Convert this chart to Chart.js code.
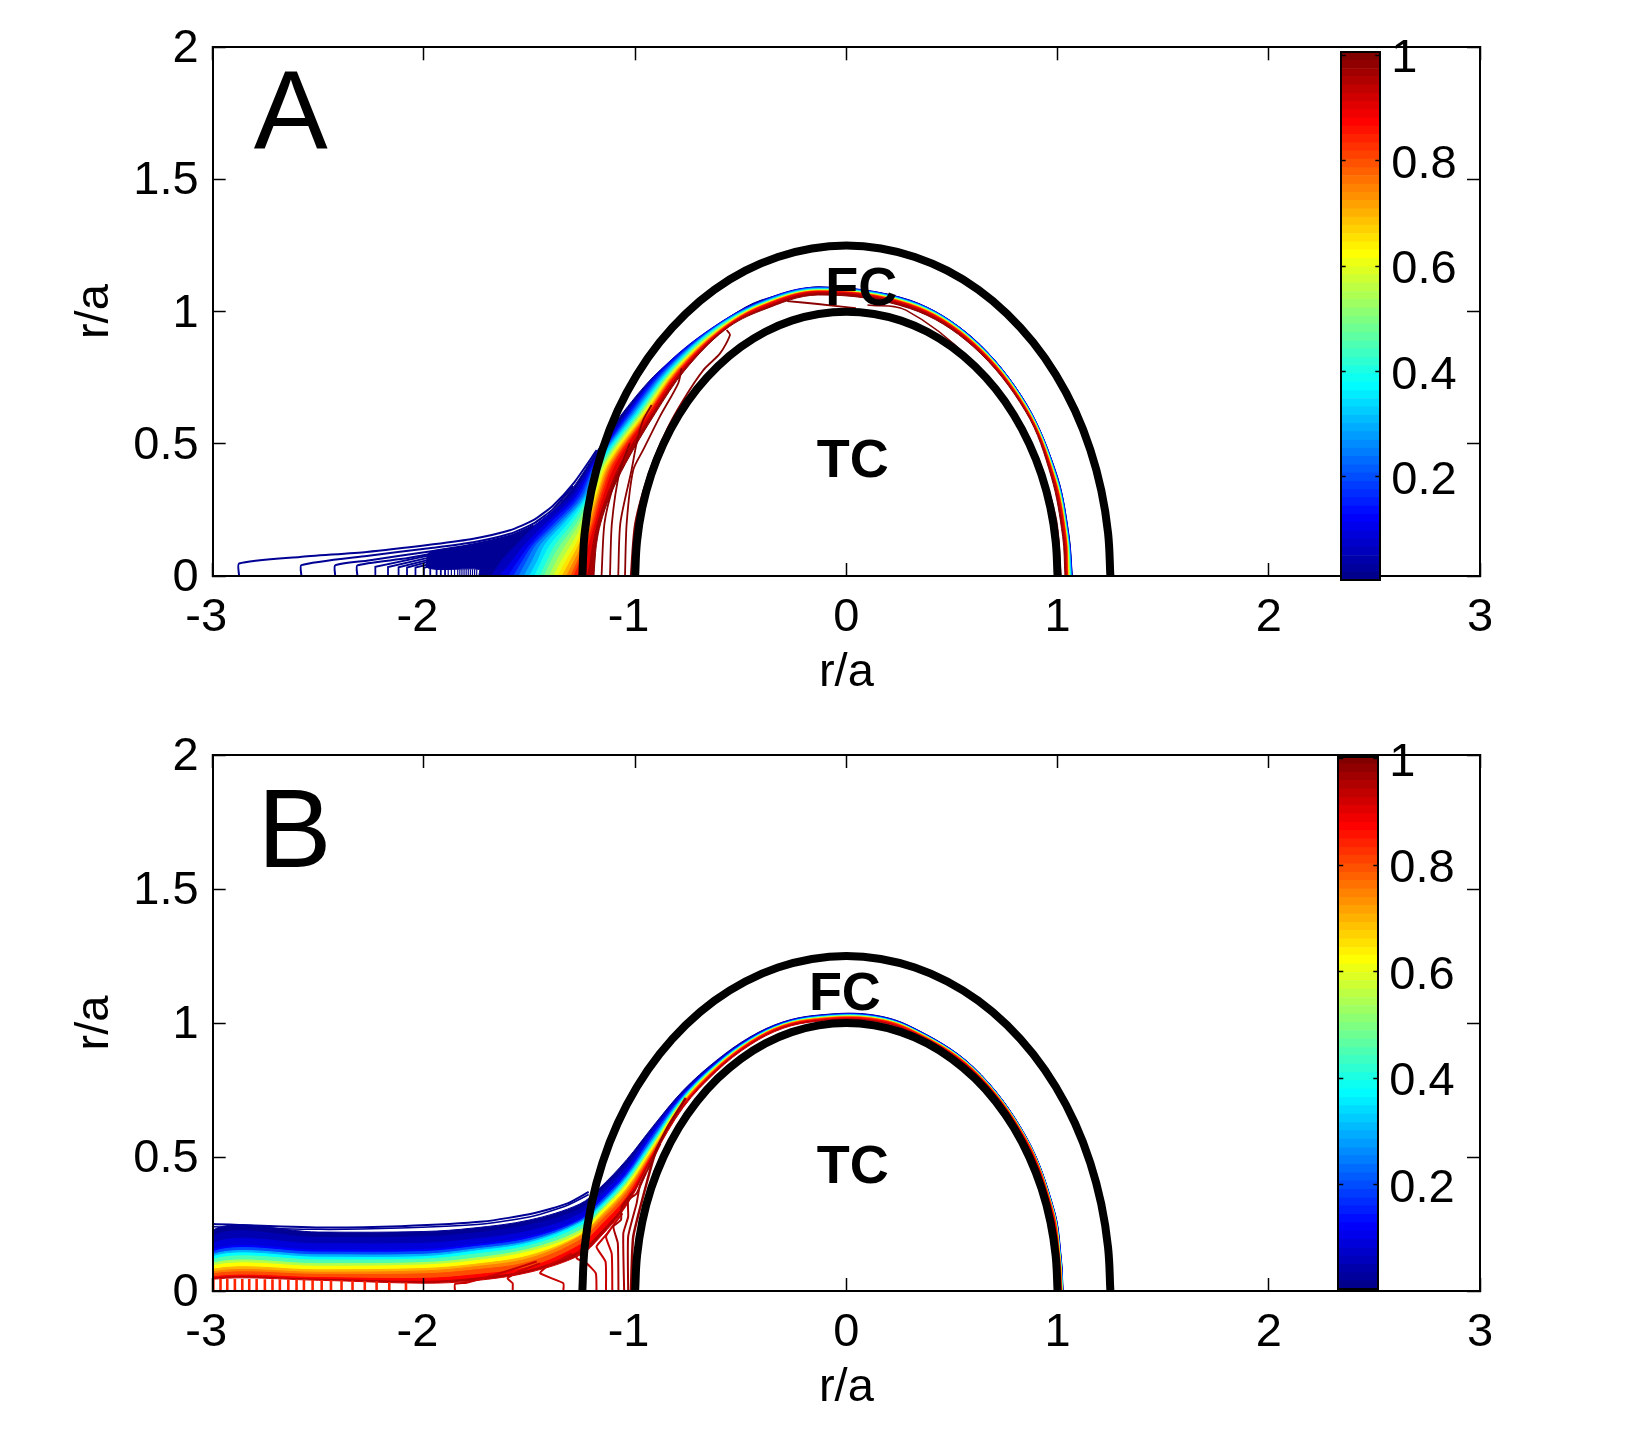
<!DOCTYPE html>
<html>
<head>
<meta charset="utf-8">
<title>r/a contours</title>
<script src="https://cdn.jsdelivr.net/npm/chart.js@4"></script>
<style>
  html, body { margin: 0; background: #fff; }
  canvas { position: absolute; }
</style>
</head>
<body>
<canvas id="chartA" width="1635" height="715" style="left:0;top:0"></canvas>
<canvas id="chartB" width="1635" height="715" style="left:0;top:715px"></canvas>
<canvas id="barA" width="200" height="620" style="left:1300px;top:0"></canvas>
<canvas id="barB" width="200" height="620" style="left:1300px;top:715px"></canvas>
<script>
// Axis ticks
const xTicks = [-3, -2, -1, 0, 1, 2, 3];
const yTicks = [0, 0.5, 1, 1.5, 2];
const barTicks = [0.2, 0.4, 0.6, 0.8, 1];

// Colour bar cell edges
const barEdges = [.004,.020,.035,.051,.067,.082,.098,.114,.129,.145,.161,.176,.192,.208,.223,.239,.255,.270,.286,.302,.317,.333,.349,.364,.380,.396,.411,.427,.443,.458,.474,.490,.505,.521,.537,.552,.568,.584,.599,.615,.631,.646,.662,.678,.693,.709,.725,.740,.756,.772,.787,.803,.819,.834,.850,.866,.881,.897,.913,.928,.944,.960,.975,.991,1.006];

// Thick semicircles
const tcX = [-1,-.991,-.966,-.924,-.866,-.793,-.707,-.609,-.5,-.383,-.259,-.131,0,.131,.259,.383,.5,.609,.707,.793,.866,.924,.966,.991,1];
const tcY = [0,.131,.259,.383,.5,.609,.707,.793,.866,.924,.966,.991,1,.991,.966,.924,.866,.793,.707,.609,.5,.383,.259,.131,0];
const fcX = [-1.25,-1.239,-1.207,-1.155,-1.083,-.992,-.884,-.761,-.625,-.478,-.324,-.163,0,.163,.324,.478,.625,.761,.884,.992,1.083,1.155,1.207,1.239,1.25];
const fcY = [0,.163,.324,.478,.625,.761,.884,.992,1.083,1.155,1.207,1.239,1.25,1.239,1.207,1.155,1.083,.992,.884,.761,.625,.478,.324,.163,0];

// Panel A, where the contour rows are read
const aLeftY = [0,.06,.12,.2,.3,.426,.615,.779,.931];
const aTopX = [-.4,-.135,.3,.6,.85];
const aEndY = [.375,.15,0];

// Panel A contour rows: x at aLeftY, y at aTopX, x at aEndY
const levelsA = [.06,.1,.15,.2,.25,.3,.35,.4,.45,.5,.55,.6,.65,.7,.75,.8,.85,.9,.96,.99];
const a06 = [-1.68,-1.63,-1.56,-1.46,-1.31,-1.205,-1.045,-.88,-.65,1.042,1.093,1.043,.899,.654,.999,1.054,1.069];
const a10 = [-1.64,-1.58,-1.52,-1.42,-1.29,-1.197,-1.038,-.875,-.647,1.04,1.092,1.042,.898,.653,.998,1.053,1.068];
const a15 = [-1.6,-1.55,-1.495,-1.4,-1.275,-1.192,-1.03,-.868,-.645,1.039,1.091,1.041,.897,.651,.997,1.052,1.067];
const a20 = [-1.575,-1.53,-1.48,-1.38,-1.262,-1.187,-1.022,-.86,-.642,1.038,1.09,1.04,.896,.65,.996,1.051,1.066];
const a25 = [-1.55,-1.51,-1.465,-1.365,-1.25,-1.183,-1.014,-.853,-.638,1.036,1.089,1.039,.895,.649,.995,1.05,1.065];
const a30 = [-1.525,-1.485,-1.445,-1.35,-1.24,-1.178,-1.006,-.846,-.635,1.035,1.088,1.038,.894,.648,.994,1.049,1.064];
const a35 = [-1.5,-1.46,-1.425,-1.335,-1.232,-1.172,-.998,-.839,-.632,1.033,1.086,1.037,.893,.647,.993,1.048,1.062];
const a40 = [-1.475,-1.44,-1.4,-1.315,-1.225,-1.165,-.99,-.833,-.627,1.032,1.085,1.036,.892,.646,.992,1.047,1.06];
const a45 = [-1.45,-1.415,-1.375,-1.295,-1.218,-1.158,-.983,-.828,-.622,1.03,1.084,1.035,.891,.645,.991,1.046,1.058];
const a50 = [-1.43,-1.395,-1.35,-1.275,-1.21,-1.152,-.977,-.823,-.617,1.029,1.083,1.034,.89,.644,.99,1.045,1.057];
const a55 = [-1.405,-1.37,-1.325,-1.26,-1.203,-1.145,-.97,-.818,-.612,1.028,1.082,1.033,.889,.642,.989,1.044,1.055];
const a60 = [-1.385,-1.347,-1.3,-1.245,-1.196,-1.138,-.963,-.813,-.608,1.027,1.081,1.032,.888,.641,.988,1.043,1.053];
const a65 = [-1.365,-1.325,-1.28,-1.235,-1.19,-1.131,-.957,-.809,-.605,1.026,1.08,1.031,.887,.64,.987,1.042,1.051];
const a70 = [-1.345,-1.305,-1.265,-1.225,-1.183,-1.124,-.951,-.804,-.602,1.024,1.079,1.03,.886,.638,.986,1.041,1.05];
const a75 = [-1.325,-1.285,-1.25,-1.215,-1.176,-1.117,-.945,-.8,-.598,1.023,1.079,1.029,.885,.637,.985,1.04,1.048];
const a80 = [-1.305,-1.27,-1.24,-1.205,-1.169,-1.108,-.94,-.795,-.595,1.022,1.078,1.028,.884,.635,.984,1.039,1.047];
const a85 = [-1.29,-1.258,-1.232,-1.197,-1.16,-1.1,-.935,-.79,-.592,1.021,1.077,1.027,.883,.634,.983,1.038,1.046];
const a90 = [-1.27,-1.24,-1.218,-1.188,-1.15,-1.088,-.93,-.785,-.589,1.018,1.076,1.025,.88,.631,.981,1.036,1.044];
const a95 = [-1.225,-1.212,-1.2,-1.178,-1.135,-1.068,-.918,-.775,-.582,1.012,1.071,1.02,.875,.626,.976,1.03,1.04];
const a99 = [-1.195,-1.19,-1.183,-1.163,-1.12,-1.045,-.905,-.764,-.575,1.005,1.063,1.012,.868,.62,.97,1.024,1.035];
const rowsA = [a06,a10,a15,a20,a25,a30,a35,a40,a45,a50,a55,a60,a65,a70,a75,a80,a85,a90,a95,a99];

// Panel A outermost solid contour
const aOuterX = [-1.74,-1.74,-1.98,-1.98,-1.956,-1.766,-1.593,-1.482,-1.388,-1.293,-1.182,-1.072,-.914,-.756,-.598,-.441,-.283,-.125,.3,.6,.85,1,1.055,1.07];
const aOuterY = [0,.025,.03,.085,.095,.118,.15,.19,.248,.335,.47,.603,.754,.861,.956,1.032,1.07,1.094,1.044,.9,.655,.375,.15,0];

// Panel A fringe lines
const aEdge1X = [-2.875,-2.875,-2.587,-2.271,-1.956,-1.766,-1.593,-1.482,-1.388,-1.293,-1.182];
const aEdge1Y = [0,.047,.072,.091,.12,.141,.173,.211,.267,.349,.476];
const aEdge2X = [-2.58,-2.58,-2.271,-1.956,-1.766,-1.593,-1.482,-1.388,-1.293];
const aEdge2Y = [0,.041,.076,.107,.128,.16,.198,.254,.34];
const aEdge3X = [-2.42,-2.42,-2.271,-1.956,-1.766,-1.593,-1.482];
const aEdge3Y = [0,.04,.058,.095,.12,.152,.19];
const aEdge4X = [-2.315,-2.315,-2.1,-1.956,-1.766,-1.593];
const aEdge4Y = [0,.04,.065,.085,.11,.14];

// Panel A comb at the base, the first few run on into the solid part
const aCombX = [-2.23,-2.17,-2.12,-2.08,-2.04,-2,-1.97,-1.94,-1.92,-1.9,-1.885,-1.87,-1.855,-1.84,-1.83,-1.82,-1.81,-1.8,-1.79,-1.78,-1.77,-1.76,-1.75];
const aCombTop = [.035,.034,.033,.032,.032,.031,.03,.03,.03,.029,.029,.029,.028,.028,.028,.028,.027,.027,.027,.026,.026,.026,.025];
const aRunEndY = [.082,.074,.067,.06,.05,.042];

// Panel A thin dark lines
const aThin1X = [-1.021,-1,-.93,-.851,-.772,-.677,-.598,-.551,-.567];
const aThin1Y = [0,.2,.401,.552,.666,.779,.842,.912,.931];
const aThin2X = [-1.048,-1.04,-1.009,-.962,-.883,-.796,-.78];
const aThin2Y = [0,.2,.401,.477,.603,.729,.786];
const aThin3X = [-1.08,-1.07,-1.017,-.993,-.962,-.922];
const aThin3Y = [0,.2,.401,.502,.59,.647];
const aThin4X = [-1.119,-1.11,-1.072,-1.025];
const aThin4Y = [0,.2,.401,.502];
const aThin5X = [-1.159,-1.145,-1.1,-1.06];
const aThin5Y = [0,.2,.35,.42];
const aThin6X = [-.28,-.135,.045];
const aThin6Y = [1.04,1.029,1.013];
const aThin7X = [.1,.282,.59,.844,.988,1.016];
const aThin7Y = [1.025,1.006,.817,.552,.237,0];

// Panel B, where the contour rows are read
const bTopX = [-3,-2.5,-2,-1.766,-1.5,-1.261,-1.167,-1.04,-.915,-.772,-.614,-.456,-.3,-.14,.1,.3,.6,.85];
const bEndY = [.3,.12,0];

// Panel B contour rows: y at bTopX, x at bEndY
const levelsB = [.02,.05,.09,.125,.2,.3,.375,.45,.55,.625,.7,.75,.8,.875,.95,.99];
const b02 = [.227,.22,.222,.235,.265,.325,.385,.49,.615,.749,.861,.948,1.004,1.029,1.033,.989,.837,.578,.985,1.018,1.026];
const b05 = [.205,.2,.202,.216,.247,.305,.37,.475,.608,.745,.858,.946,1.003,1.028,1.032,.988,.836,.577,.984,1.017,1.026];
const b09 = [.178,.176,.178,.193,.224,.287,.355,.46,.6,.74,.855,.944,1.002,1.027,1.031,.987,.836,.577,.984,1.017,1.025];
const b125 = [.153,.153,.155,.172,.203,.27,.34,.445,.59,.735,.852,.942,1,1.026,1.03,.986,.835,.576,.983,1.016,1.025];
const b20 = [.146,.145,.147,.165,.196,.264,.332,.437,.582,.731,.85,.94,.999,1.025,1.029,.985,.834,.575,.982,1.015,1.024];
const b30 = [.136,.135,.137,.156,.187,.258,.322,.428,.57,.726,.847,.939,.997,1.023,1.027,.984,.833,.574,.982,1.015,1.024];
const b375 = [.128,.126,.128,.148,.18,.252,.314,.42,.56,.722,.845,.937,.996,1.022,1.026,.983,.832,.573,.981,1.014,1.023];
const b45 = [.118,.116,.119,.137,.17,.241,.307,.412,.554,.718,.843,.935,.995,1.021,1.025,.982,.831,.572,.98,1.013,1.022];
const b55 = [.104,.102,.106,.122,.157,.226,.297,.403,.546,.714,.84,.933,.994,1.019,1.023,.981,.83,.571,.98,1.013,1.022];
const b625 = [.094,.092,.097,.112,.147,.215,.29,.395,.54,.71,.838,.932,.993,1.018,1.022,.98,.829,.57,.979,1.012,1.021];
const b70 = [.081,.079,.084,.099,.132,.208,.278,.383,.532,.706,.836,.931,.992,1.017,1.021,.979,.828,.569,.978,1.011,1.02];
const b75 = [.072,.07,.075,.09,.122,.203,.27,.375,.525,.703,.834,.93,.991,1.016,1.02,.978,.827,.568,.978,1.011,1.02];
const b80 = [.064,.062,.064,.078,.109,.19,.258,.365,.52,.7,.832,.929,.99,1.015,1.019,.977,.826,.567,.977,1.01,1.019];
const b875 = [.053,.05,.047,.06,.09,.172,.24,.35,.515,.696,.83,.927,.988,1.013,1.017,.975,.825,.565,.976,1.009,1.018];
const b95 = [.048,.044,.036,.047,.078,.15,.216,.332,.507,.69,.825,.922,.984,1.009,1.012,.97,.82,.557,.97,1.003,1.012];
const b99 = [.044,.04,.029,.038,.07,.134,.2,.32,.5,.685,.82,.918,.98,1.006,1.008,.966,.815,.55,.965,.998,1.005];
const rowsB = [b02,b05,b09,b125,b20,b30,b375,b45,b55,b625,b70,b75,b80,b875,b95,b99];

// Panel B fringe lines
const bEdgeX = [-3,-2.49,-2.11,-1.72,-1.48,-1.32,-1.22];
const bEdge1Y = [.25,.237,.242,.259,.29,.327,.37];
const bEdge2Y = [.24,.23,.235,.25,.28,.32,.36];

// Panel B comb at the base
const bCombX = [-2.997,-2.963,-2.931,-2.895,-2.86,-2.827,-2.792,-2.753,-2.717,-2.682,-2.642,-2.603,-2.568,-2.527,-2.484,-2.44,-2.39,-2.338,-2.28,-2.224,-2.164,-2.085];
const bCombTop = [.046,.046,.046,.045,.045,.045,.045,.044,.044,.044,.043,.043,.042,.042,.041,.04,.04,.039,.038,.036,.034,.032];

// Panel B jagged lines
const bThin1X = [-1.853,-1.853,-1.798,-1.64,-1.466];
const bThin1Y = [0,.026,.031,.066,.11];
const bThin2X = [-1.58,-1.58,-1.604,-1.553,-1.45];
const bThin2Y = [0,.029,.047,.072,.103];
const bThin3X = [-1.34,-1.34,-1.45,-1.419,-1.356,-1.3];
const bThin3Y = [0,.029,.066,.091,.116,.14];
const bThin4X = [-1.183,-1.186,-1.23,-1.277,-1.261,-1.222];
const bThin4Y = [0,.066,.103,.122,.153,.172];
const bThin5X = [-1.138,-1.14,-1.183,-1.152,-1.119];
const bThin5Y = [0,.109,.165,.196,.227];
const bThin6X = [-1.108,-1.111,-1.138,-1.103,-1.06];
const bThin6Y = [0,.14,.203,.246,.29];
const bThin7X = [-1.079,-1.082,-1.103,-1.067,-1.064,-1];
const bThin7Y = [0,.178,.24,.265,.314,.38];
const bThin8X = [-1.052,-1.056,-1.033,-1.033,-.993,-.95];
const bThin8Y = [0,.215,.277,.339,.364,.44];
const bThin9X = [-1.033,-1.033,-.993,-.977,-.938,-.88];
const bThin9Y = [0,.203,.327,.395,.457,.55];
const bThin10X = [-1.02,-1.009,-.946,-.9,-.84,-.76];
const bThin10Y = [0,.203,.401,.526,.62,.72];

const FONT = "'Liberation Sans', Arial, sans-serif";
Chart.defaults.font.family = FONT;
Chart.defaults.color = "#000";

// Matlab jet colour map
function jet(v) {
  const part = (c) => Math.round(255 * Math.min(1, Math.max(0, 1.5 - Math.abs(4 * v - c))));
  return "rgb(" + part(3) + "," + part(2) + "," + part(1) + ")";
}

function pairs(xs, ys) {
  return xs.map((x, i) => ({ x: x, y: ys[i] }));
}

function lineSet(xs, ys, color, width, tension) {
  return {
    data: pairs(xs, ys),
    showLine: true,
    borderColor: color,
    borderWidth: width,
    pointRadius: 0,
    tension: tension,
    fill: false,
    clip: 0,
  };
}

function fillSet(points, color, edge, tension) {
  return {
    data: points,
    showLine: true,
    borderColor: edge,
    borderWidth: 1,
    backgroundColor: color,
    pointRadius: 0,
    tension: tension,
    fill: "shape",
  };
}

function rowPointsA(row) {
  return [
    ...aLeftY.map((y, i) => ({ x: row[i], y: y })),
    ...aTopX.map((x, i) => ({ x: x, y: row[9 + i] })),
    ...aEndY.map((y, i) => ({ x: row[14 + i], y: y })),
  ];
}

function rowPointsB(row) {
  return [
    { x: -3, y: 0 },
    ...bTopX.map((x, i) => ({ x: x, y: row[i] })),
    ...bEndY.map((y, i) => ({ x: row[18 + i], y: y })),
  ];
}

// Panel A, listed bottom layer first
function datasetsA() {
  const sets = [];
  const navy = jet(0.02);
  sets.push(lineSet(aEdge1X, aEdge1Y, navy, 2, 0.2));
  sets.push(lineSet(aEdge2X, aEdge2Y, navy, 2, 0.2));
  sets.push(lineSet(aEdge3X, aEdge3Y, navy, 2, 0.2));
  sets.push(lineSet(aEdge4X, aEdge4Y, navy, 2, 0.2));
  aCombX.forEach((x, i) => {
    const xs = i < aRunEndY.length ? [x, x, -1.95] : [x, x];
    const ys = i < aRunEndY.length ? [0, aCombTop[i], aRunEndY[i]] : [0, aCombTop[i]];
    sets.push(lineSet(xs, ys, navy, i < 10 ? 1.8 : 1.2, 0));
  });
  sets.push(fillSet(pairs(aOuterX, aOuterY), navy, navy, 0.3));
  rowsA.forEach((row, i) => {
    const last = i === rowsA.length - 1;
    const color = jet(levelsA[i]);
    sets.push(fillSet(rowPointsA(row), last ? "#fff" : color, color, 0.35));
  });
  const dark = "#8b0000";
  sets.push(lineSet(aThin1X, aThin1Y, dark, 1.8, 0.25));
  sets.push(lineSet(aThin2X, aThin2Y, dark, 1.8, 0.25));
  sets.push(lineSet(aThin3X, aThin3Y, dark, 1.8, 0.25));
  sets.push(lineSet(aThin4X, aThin4Y, dark, 1.8, 0.25));
  sets.push(lineSet(aThin5X, aThin5Y, dark, 1.8, 0.25));
  sets.push(lineSet(aThin6X, aThin6Y, dark, 1.8, 0.1));
  sets.push(lineSet(aThin7X, aThin7Y, dark, 1.5, 0.35));
  sets.push(lineSet(fcX, fcY, "#000", 8, 0.4));
  sets.push(lineSet(tcX, tcY, "#000", 8, 0.4));
  return sets.reverse();
}

// Panel B, listed bottom layer first
function datasetsB() {
  const sets = [];
  const navy = jet(0.02);
  sets.push(lineSet(bEdgeX, bEdge1Y, navy, 2, 0.2));
  sets.push(lineSet(bEdgeX, bEdge2Y, navy, 1.5, 0.2));
  rowsB.forEach((row, i) => {
    const last = i === rowsB.length - 1;
    const color = jet(levelsB[i]);
    sets.push(fillSet(rowPointsB(row), last ? "#fff" : color, last ? jet(0.92) : color, 0.35));
  });
  bCombX.forEach((x, i) => {
    sets.push(lineSet([x, x], [0, bCombTop[i]], jet(0.84), 2.6, 0));
  });
  const red = jet(0.93);
  sets.push(lineSet(bThin1X, bThin1Y, red, 2, 0.15));
  sets.push(lineSet(bThin2X, bThin2Y, red, 2, 0.15));
  sets.push(lineSet(bThin3X, bThin3Y, red, 2, 0.15));
  sets.push(lineSet(bThin4X, bThin4Y, red, 2, 0.15));
  sets.push(lineSet(bThin5X, bThin5Y, red, 2, 0.15));
  sets.push(lineSet(bThin6X, bThin6Y, red, 2, 0.15));
  sets.push(lineSet(bThin7X, bThin7Y, jet(0.96), 2, 0.15));
  sets.push(lineSet(bThin8X, bThin8Y, jet(0.96), 2, 0.15));
  sets.push(lineSet(bThin9X, bThin9Y, jet(0.97), 2, 0.15));
  sets.push(lineSet(bThin10X, bThin10Y, jet(0.98), 2.5, 0.15));
  sets.push(lineSet(fcX, fcY, "#000", 8, 0.4));
  sets.push(lineSet(tcX, tcY, "#000", 8, 0.4));
  return sets.reverse();
}

// Big letter and the two region names
function textPlugin(letter, letterX, letterY, fcAtX, fcAtY, tcAtX, tcAtY) {
  return {
    id: "panelText",
    afterDraw(chart) {
      const { ctx, scales } = chart;
      const put = (text, x, y, font) => {
        ctx.font = font;
        ctx.fillText(text, scales.x.getPixelForValue(x), scales.y.getPixelForValue(y));
      };
      ctx.save();
      ctx.fillStyle = "#000";
      ctx.textAlign = "center";
      ctx.textBaseline = "middle";
      put(letter, letterX, letterY, "111px " + FONT);
      put("FC", fcAtX, fcAtY, "bold 54px " + FONT);
      put("TC", tcAtX, tcAtY, "bold 54px " + FONT);
      ctx.restore();
    },
  };
}

function axisBase(tickList) {
  return {
    afterBuildTicks: (scale) => {
      scale.ticks = tickList.map((v) => ({ value: v }));
    },
    border: { display: true, color: "#000", width: 2, z: 1 },
    grid: {
      drawOnChartArea: false,
      drawTicks: true,
      tickLength: -13,
      tickWidth: 1.5,
      tickColor: "#000",
      z: 1,
    },
  };
}

function panelOptions(top) {
  return {
    responsive: false,
    devicePixelRatio: 1,
    animation: false,
    events: [],
    layout: { padding: { left: 67, right: 155, top: top, bottom: 14 } },
    plugins: {
      legend: { display: false },
      tooltip: { enabled: false },
      filler: { drawTime: "beforeDatasetDraw" },
    },
    scales: {
      x: {
        ...axisBase(xTicks),
        type: "linear",
        position: "bottom",
        min: -3,
        max: 3,
        afterFit: (scale) => { scale.height = 125; scale.paddingLeft = 0; scale.paddingRight = 0; },
        ticks: {
          autoSkip: false,
          maxRotation: 0,
          font: { size: 47 },
          padding: 27,
          callback: (v) => (v < 0 ? v + " " : String(v)),
        },
        title: { display: true, text: "r/a", font: { size: 47 }, padding: 0 },
      },
      y: {
        ...axisBase(yTicks),
        type: "linear",
        position: "left",
        min: 0,
        max: 2,
        afterFit: (scale) => { scale.width = 145.7; scale.paddingTop = 0; scale.paddingBottom = 0; },
        ticks: {
          autoSkip: false,
          font: { size: 47 },
          padding: 27,
          labelOffset: 2,
          callback: (v) => String(v),
        },
        title: { display: true, text: "r/a", font: { size: 47 }, padding: 0 },
      },
      xTop: {
        ...axisBase(xTicks),
        type: "linear",
        position: "top",
        min: -3,
        max: 3,
        afterFit: (scale) => { scale.height = 0; scale.paddingLeft = 0; scale.paddingRight = 0; },
        ticks: { display: false },
      },
      yRight: {
        ...axisBase(yTicks),
        type: "linear",
        position: "right",
        min: 0,
        max: 2,
        afterFit: (scale) => { scale.width = 0; scale.paddingTop = 0; scale.paddingBottom = 0; },
        ticks: { display: false },
      },
    },
  };
}

function barDatasets() {
  return barEdges.slice(0, -1).map((lo, i) => ({
    data: [[lo, barEdges[i + 1]]],
    backgroundColor: jet((lo + barEdges[i + 1]) / 2),
    barPercentage: 1,
    categoryPercentage: 1,
    grouped: false,
  }));
}

function drawBar(id, padding, labelRoom, yMin, yMax) {
  const ring = { display: true, color: "#000", width: 2, z: 1 };
  const inTicks = {
    drawOnChartArea: false,
    drawTicks: true,
    tickLength: -5,
    tickWidth: 1.5,
    tickColor: "#000",
    z: 1,
  };
  const setTicks = (scale) => {
    scale.ticks = barTicks.map((v) => ({ value: v }));
  };
  new Chart(document.getElementById(id), {
    type: "bar",
    data: { labels: ["jet"], datasets: barDatasets() },
    options: {
      responsive: false,
      devicePixelRatio: 1,
      animation: false,
      events: [],
      layout: { padding: padding },
      plugins: { legend: { display: false }, tooltip: { enabled: false } },
      scales: {
        x: {
          type: "category",
          border: ring,
          grid: { display: false },
          ticks: { display: false },
          afterFit: (scale) => { scale.height = 0; },
        },
        xTop: {
          type: "linear",
          position: "top",
          min: 0,
          max: 1,
          border: ring,
          grid: { display: false },
          ticks: { display: false },
          afterFit: (scale) => { scale.height = 0; },
        },
        y: {
          type: "linear",
          position: "right",
          min: yMin,
          max: yMax,
          afterBuildTicks: setTicks,
          // labels are clipped to the scale box, so it needs its real width
          afterFit: (scale) => { scale.width = labelRoom; scale.paddingTop = 0; scale.paddingBottom = 0; },
          border: ring,
          grid: inTicks,
          ticks: {
            autoSkip: false,
            font: { size: 47 },
            padding: 16,
            labelOffset: 4,
            callback: (v) => String(v),
          },
        },
        yLeft: {
          type: "linear",
          position: "left",
          min: yMin,
          max: yMax,
          afterBuildTicks: setTicks,
          afterFit: (scale) => { scale.width = 0; scale.paddingTop = 0; scale.paddingBottom = 0; },
          border: ring,
          grid: inTicks,
          ticks: { display: false },
        },
      },
    },
  });
}

window.onload = function () {
  new Chart(document.getElementById("chartA"), {
    type: "scatter",
    data: { datasets: datasetsA() },
    options: panelOptions(47.3),
    plugins: [textPlugin("A", -2.63, 1.735, 0.07, 1.082, 0.03, 0.432)],
  });
  new Chart(document.getElementById("chartB"), {
    type: "scatter",
    data: { datasets: datasetsB() },
    options: panelOptions(40),
    plugins: [textPlugin("B", -2.613, 1.695, -0.007, 1.104, 0.03, 0.459)],
  });
  drawBar("barA", { left: 40.7, right: 0, top: 52.2, bottom: 39.7 }, 119.7, 0.004, 1.006);
  drawBar("barB", { left: 38.3, right: 0, top: 41.8, bottom: 46 }, 121.7, 0.0047, 1.004);
};
</script>
</body>
</html>
